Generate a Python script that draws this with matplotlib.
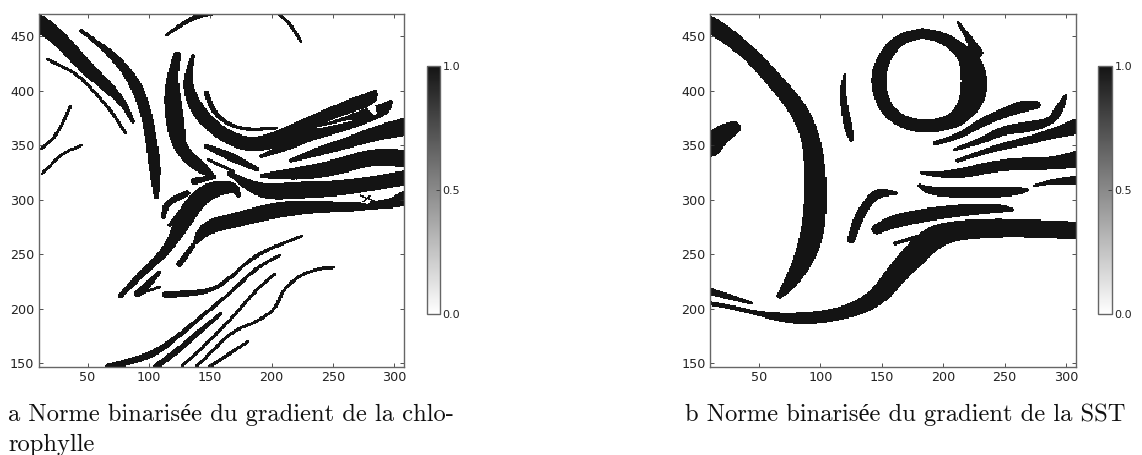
import numpy as np
import matplotlib
matplotlib.use('Agg')
import matplotlib.pyplot as plt
from matplotlib.transforms import Bbox

# front bands: (x, y, thickness) along the middle of each band
chl_bands = [
    [(10, 462, 15), (22, 453, 13), (33, 441, 12), (49, 421, 11), (66, 404, 9), (79, 389, 5), (87, 372, 2)],
    [(45, 455, 2), (58, 444, 3), (71, 432, 6), (82, 418, 7), (91, 402, 9), (98, 379, 8), (102, 355, 8), (105, 330, 9), (106, 303, 3)],
    [(17, 429, 1.5), (30, 422, 1.5), (43, 414, 1.5), (58, 396, 1.5), (71, 379, 1.5), (81, 361, 1.5)],
    [(36, 386, 1.5), (33, 378, 1.5), (29, 369, 1.5), (24, 359, 1.5), (18, 352, 1.5), (12, 347, 1.5)],
    [(45, 350, 1.3), (30, 343, 1.3), (20, 332, 1.3), (13, 324, 1.3)],
    [(114, 451, 1.5), (128, 462, 2.5), (142, 470, 4), (151, 472, 4)],
    [(204, 472, 1.5), (215, 462, 1.5), (224, 445, 1.5)],
    [(123, 433, 5), (119, 413, 8), (119, 392, 13), (122, 367, 14), (124, 352, 10), (131, 340, 10), (142, 330, 10), (151, 323, 3)],
    [(136, 432, 2), (131, 410, 6), (136, 389, 10), (147, 372, 11), (163, 358, 11), (182, 350, 12), (201, 354, 13), (218, 363, 12), (234, 372, 10), (250, 380, 10), (266, 387, 11), (280, 392, 12), (285, 400, 1.5)],
    [(147, 398, 3), (152, 382, 3), (163, 370, 2), (180, 364, 2), (204, 366, 1.5)],
    [(192, 340, 2), (212, 349, 7), (234, 361, 10), (256, 368, 11), (277, 377, 12), (292, 383, 10), (297, 390, 2)],
    [(216, 336, 2), (237, 344, 7), (264, 353, 9), (285, 361, 12), (308, 367, 15)],
    [(193, 322, 3), (223, 324, 11), (250, 329, 13), (283, 340, 14), (308, 338, 15)],
    [(147, 349, 3), (166, 340, 7), (188, 328, 3)],
    [(148, 337, 1.5), (169, 326, 1.5)],
    [(166, 324, 3), (180, 314, 8), (196, 307, 13), (223, 309, 14), (250, 310, 13), (277, 314, 12), (308, 320, 12)],
    [(138, 261, 3), (147, 275, 12), (169, 281, 12), (190, 287, 13), (212, 292, 13), (239, 294, 10), (261, 293, 7), (283, 295, 6), (299, 297, 8), (308, 301, 12)],
    [(77, 212, 3), (93, 231, 5), (109, 247, 6), (120, 263, 8), (128, 281, 14), (139, 300, 14), (152, 310, 14), (169, 312, 9), (173, 304, 2)],
    [(112, 284, 2), (114, 297, 5), (131, 306, 4)],
    [(137, 317, 5), (153, 321, 3)],
    [(117, 277, 2), (129, 294, 2)],
    [(125, 241, 4), (136, 258, 3)],
    [(91, 214, 5), (100, 223, 5), (109, 234, 1.5)],
    [(93, 214, 1.5), (109, 220, 1.5)],
    [(114, 213, 5), (133, 214, 4), (152, 217, 3), (166, 228, 2), (180, 243, 2), (196, 254, 2), (212, 261, 1.5), (225, 267, 1.5)],
    [(67, 147, 4), (87, 152, 5), (106, 160, 5), (123, 174, 3), (144, 194, 2), (166, 214, 2), (182, 232, 2), (196, 243, 1.5), (207, 249, 1.5)],
    [(106, 147, 4), (125, 163, 4), (142, 180, 3), (159, 196, 1.5)],
    [(127, 147, 1.5), (147, 168, 1.5), (169, 193, 1.5), (188, 218, 1.5), (203, 232, 1.5)],
    [(139, 147, 1.5), (155, 165, 1.5), (169, 180, 1.5), (190, 189, 1.5), (204, 201, 1.5), (209, 217, 1.5), (223, 231, 1.5), (239, 237, 1.5), (251, 238, 1.5)],
    [(150, 147, 2), (166, 159, 2), (181, 170, 1.5)],
]
# white slits between merged bands
chl_gaps = [
    [(237, 366, 1), (266, 373, 1)],
    [(282, 384, 6), (284, 380, 3)],
    [(276, 302, 2), (281, 296, 1), (270, 299, 1)],
    [(284, 303, 7), (296, 305, 5)],
    [(137, 268, 1), (146, 286, 1.5), (158, 293, 1)],
]
chl_specks = [
    [(272, 304, 1), (284, 299, 1)],
    [(274, 298, 1), (281, 304, 1)],
]

sst_bands = [
    [(10, 461, 14), (29, 447, 13), (48, 428, 12), (67, 404, 13), (83, 382, 14), (93, 355, 14), (96, 324, 16), (96, 294, 17), (93, 266, 18), (86, 244, 15), (77, 226, 11), (67, 212, 4)],
    [(10, 349, 18), (20, 361, 15), (29, 366, 11)],
    [(183, 453, 8), (200, 449, 9), (214, 438, 11), (222, 428, 16), (226, 410, 21), (224, 392, 19), (214, 376, 14), (200, 369, 11), (183, 367, 11), (165, 372, 10), (152, 385, 10), (146, 410, 11), (152, 432, 10), (165, 448, 9), (183, 453, 8)],
    [(212, 463, 1), (220, 450, 4), (228, 435, 8)],
    [(120, 415, 1.5), (118, 400, 4), (120, 382, 5), (123, 365, 6), (125, 355, 2)],
    [(125, 263, 5), (130, 281, 7), (138, 297, 6), (147, 307, 8), (161, 306, 2)],
    [(146, 273, 8), (159, 280, 11), (184, 286, 11), (211, 290, 10), (235, 292, 8), (248, 292, 6), (257, 291, 1.5)],
    [(161, 260, 2), (188, 269, 3)],
    [(10, 205, 2.5), (29, 201, 2.5), (48, 196, 3), (67, 192, 7), (89, 191, 10), (110, 194, 10), (130, 200, 12), (148, 212, 15), (162, 232, 17), (178, 251, 20), (192, 266, 20), (211, 272, 17), (238, 274, 16), (265, 274, 15), (308, 272, 15)],
    [(10, 216, 5), (26, 211, 4), (44, 205, 1.5)],
    [(182, 325, 1.5), (193, 323, 3), (214, 324, 8), (238, 330, 9), (260, 333, 10), (287, 333, 10), (308, 337, 14)],
    [(181, 313, 2), (189, 308, 7), (214, 307, 9), (241, 307, 9), (260, 308, 7), (269, 309, 1.5)],
    [(274, 313, 1), (290, 317, 3.5), (308, 318, 7)],
    [(212, 336, 2), (241, 347, 4.5), (271, 355, 6.5), (290, 361, 8), (308, 367, 13)],
    [(209, 346, 1.5), (233, 355, 5), (249, 364, 7), (271, 367, 9), (288, 372, 5), (294, 382, 7), (300, 396, 1.5)],
    [(194, 352, 3), (214, 359, 4), (233, 372, 7), (252, 381, 8), (265, 386, 10), (276, 387, 6)],
]

x_ticks = [50, 100, 150, 200, 250, 300]
y_ticks = [150, 200, 250, 300, 350, 400, 450]
cbar_ticks = [0.0, 0.5, 1.0]
caption_a = ['a Norme binarisée du gradient de la chlo-', 'rophylle']
caption_b = ['b Norme binarisée du gradient de la SST']

W, H = 1142, 455
XLIM = (10, 308)
YLIM = (147, 471)


def round_off(band, passes=3):
    # corner cutting so the read-off points give a smooth band
    pts = np.asarray(band, dtype=float)
    for _ in range(passes):
        a, b = pts[:-1], pts[1:]
        mid = np.empty((2 * len(a), 3))
        mid[0::2] = 0.75 * a + 0.25 * b
        mid[1::2] = 0.25 * a + 0.75 * b
        pts = np.vstack([pts[:1], mid, pts[-1:]])
    return pts


def stamp(mask, X, Y, band, grow):
    pts = round_off(band)
    for (x0, y0, w0), (x1, y1, w1) in zip(pts[:-1], pts[1:]):
        dx, dy = x1 - x0, y1 - y0
        t = ((X - x0) * dx + (Y - y0) * dy) / max(dx * dx + dy * dy, 1e-9)
        t = np.clip(t, 0, 1)
        dist = np.hypot(X - (x0 + t * dx), Y - (y0 + t * dy))
        mask |= dist <= (w0 + t * (w1 - w0)) / 2 + grow
    return mask


def binary_field(bands, gaps=(), specks=()):
    xe = np.arange(XLIM[0], XLIM[1] + 1)
    ye = np.arange(YLIM[0], YLIM[1] + 1)
    X, Y = np.meshgrid((xe[:-1] + xe[1:]) / 2, (ye[:-1] + ye[1:]) / 2)
    mask = np.zeros(X.shape, dtype=bool)
    for band in bands:
        mask = stamp(mask, X, Y, band, 0.7)
    for band in gaps:
        erase = stamp(np.zeros(X.shape, dtype=bool), X, Y, band, 0.1)
        mask[erase] = False
    for band in specks:
        mask = stamp(mask, X, Y, band, 0.2)
    return xe, ye, mask.astype(float)


def px_axes(fig, x0, x1, y0, y1):
    return fig.add_axes([x0 / W, 1 - y1 / H, (x1 - x0) / W, (y1 - y0) / H])


def draw_panel(fig, box, cbox, field, clip_x=None):
    ax = px_axes(fig, *box)
    xe, ye, z = field
    mesh = ax.pcolormesh(xe, ye, z, cmap='gray_r', vmin=0, vmax=1, alpha=0.92)
    ax.set_xlim(*XLIM)
    ax.set_ylim(*YLIM)
    ax.set_xticks(x_ticks)
    ax.set_yticks(y_ticks)
    ax.tick_params(direction='in', top=True, right=True, length=3, width=0.6, color='#333333',
                   labelsize=9.2, labelcolor='#222222', pad=3)
    for s in ax.spines.values():
        s.set_color('#666666')
        s.set_linewidth(1.0)

    cax = px_axes(fig, *cbox)
    cb = fig.colorbar(mesh, cax=cax)
    cb.set_ticks(cbar_ticks)
    cb.outline.set_edgecolor('#666666')
    cb.outline.set_linewidth(1.0)
    cax.tick_params(direction='in', length=3, width=0.6, color='#333333',
                    labelsize=8, labelcolor='#222222', pad=2)
    if clip_x is not None:
        # the label column is cut at the edge of the subfigure box
        clip = Bbox([[0, 0], [clip_x, H]])
        for lab in cax.get_yticklabels():
            lab.set_clip_box(clip)
            lab.set_clip_on(True)
    return ax


fig = plt.figure(figsize=(W / 100, H / 100), dpi=100)

draw_panel(fig, (38.5, 404, 13.5, 366.5), (426.7, 439.7, 66, 313.7),
           binary_field(chl_bands, chl_gaps, chl_specks), clip_x=460.5)
draw_panel(fig, (710, 1075.7, 13.5, 366.5), (1098.3, 1111.7, 66, 313.7),
           binary_field(sst_bands))

cap_font = ['cmr10', 'Liberation Serif']
cap_size = 17.7
for i, line in enumerate(caption_a):
    fig.text(8 / W, 1 - (421 + i * 30) / H, line, family=cap_font, fontsize=cap_size,
             color='#111111', va='baseline')
fig.text(685 / W, 1 - 421 / H, caption_b[0], family=cap_font, fontsize=cap_size,
         color='#111111', va='baseline')

fig.savefig('out.png', dpi=100)
plt.close(fig)
